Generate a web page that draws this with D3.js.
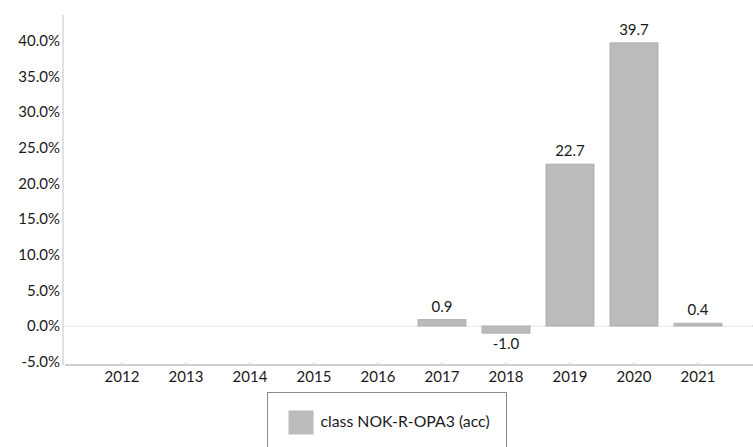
<!DOCTYPE html>
<html>
<head>
<meta charset="utf-8">
<script src="https://cdn.jsdelivr.net/npm/d3@7"></script>
<style>
  body { margin: 0; background: #fff; }
  text { font-family: Lato, "Noto Sans", sans-serif; fill: #1a1a1a; }
</style>
</head>
<body>
<svg width="753" height="447"></svg>
<script>
// chart data
const years = ['2012', '2013', '2014', '2015', '2016', '2017', '2018', '2019', '2020', '2021'];
const values = [null, null, null, null, null, 0.9, -1.0, 22.7, 39.7, 0.4];
const yTicks = [-5, 0, 5, 10, 15, 20, 25, 30, 35, 40];
const seriesName = 'class NOK-R-OPA3 (acc)';

const svg = d3.select('svg');
const fontSize = 15;
const barColor = '#bbbbbb';

const axisX = 63;
const plotTop = 15;
const plotBottom = 365;

const x = d3.scaleBand()
  .domain(years)
  .range([90, 730])
  .paddingInner(0.25)
  .paddingOuter(0.125);

const y = d3.scaleLinear()
  .domain([-5.46, 43.6])
  .range([plotBottom, plotTop]);

const data = years.map((yr, i) => ({ year: yr, value: values[i] }));

// y axis
const yAxisG = svg.append('g')
  .attr('transform', `translate(${axisX},0)`)
  .call(d3.axisLeft(y)
    .tickValues(yTicks)
    .tickSize(1)
    .tickPadding(2)
    .tickFormat(d => d.toFixed(1) + '%'));
yAxisG.select('.domain').attr('stroke', '#c4c4c4').attr('d', `M0,${plotTop}V${plotBottom}`);
yAxisG.selectAll('.tick line').attr('stroke', '#c4c4c4');
yAxisG.selectAll('.tick text').style('font-size', fontSize + 'px').attr('fill', '#1a1a1a');

// x axis (bottom)
const xAxisG = svg.append('g')
  .attr('transform', `translate(0,${plotBottom})`)
  .call(d3.axisBottom(x).tickSize(-3).tickPadding(6));
xAxisG.select('.domain')
  .attr('stroke', '#d0d0d0')
  .attr('stroke-width', 2)
  .attr('d', `M${axisX + 2},0H753`);
xAxisG.selectAll('.tick line').attr('stroke', '#d8d8d8');
xAxisG.selectAll('.tick text').style('font-size', fontSize + 'px').attr('fill', '#1a1a1a');

// zero line
svg.append('line')
  .attr('x1', axisX + 1).attr('x2', 753)
  .attr('y1', y(0)).attr('y2', y(0))
  .attr('stroke', '#c8c8c8')
  .attr('stroke-dasharray', '1,1');

// bars
const withValue = data.filter(d => d.value !== null);
svg.append('g').selectAll('rect')
  .data(withValue)
  .join('rect')
  .attr('x', d => x(d.year))
  .attr('width', x.bandwidth())
  .attr('y', d => y(Math.max(0, d.value)))
  .attr('height', d => Math.abs(y(d.value) - y(0)))
  .attr('fill', barColor)
  .attr('stroke', '#a8a8a8')
  .attr('stroke-width', 0.8);

// value labels
svg.append('g').selectAll('text')
  .data(withValue)
  .join('text')
  .attr('x', d => x(d.year) + x.bandwidth() / 2)
  .attr('y', d => d.value >= 0 ? y(d.value) - 8 : y(d.value) + 16)
  .attr('text-anchor', 'middle')
  .style('font-size', fontSize + 'px')
  .text(d => d.value.toFixed(1));

// legend
const legend = svg.append('g').attr('transform', 'translate(267.5,392.5)');
legend.append('rect')
  .attr('width', 239)
  .attr('height', 70)
  .attr('fill', '#fff')
  .attr('stroke', '#8a8a8a');
legend.append('rect')
  .attr('x', 21).attr('y', 18)
  .attr('width', 25).attr('height', 24)
  .attr('fill', barColor);
legend.append('text')
  .attr('x', 53).attr('y', 29)
  .attr('dy', '0.35em')
  .style('font-size', '15.8px')
  .text(seriesName);
</script>
</body>
</html>
